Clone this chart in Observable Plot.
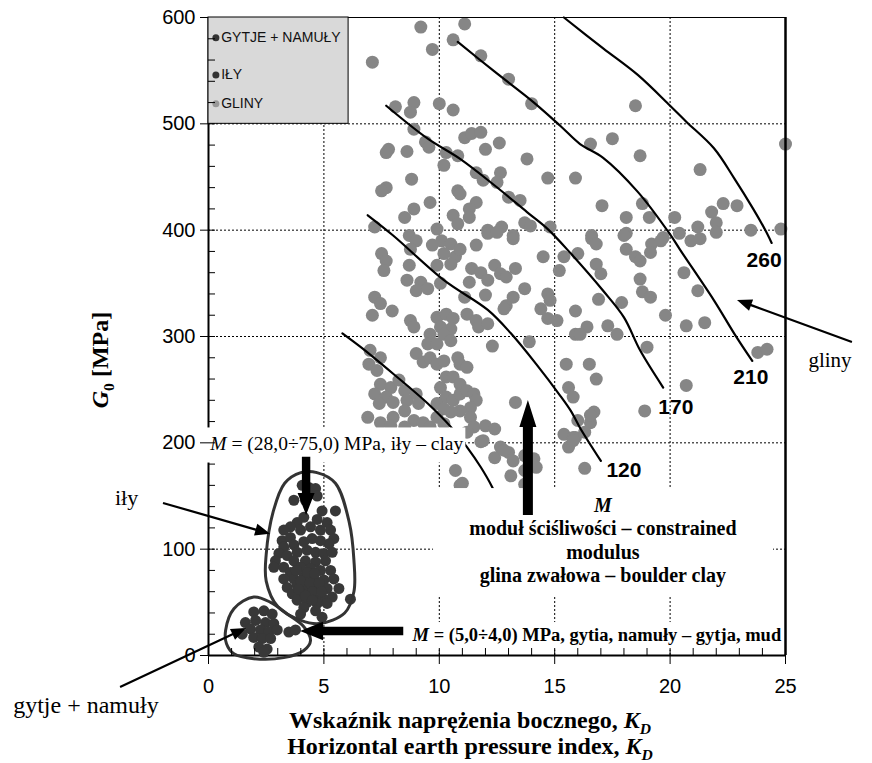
<!DOCTYPE html>
<html><head><meta charset="utf-8">
<script src="https://cdn.jsdelivr.net/npm/d3@7"></script>
<script src="https://cdn.jsdelivr.net/npm/@observablehq/plot@0.6"></script>
<style>html,body{margin:0;padding:0;background:#fff}</style>
</head><body><div id="chart"></div>
<script>
// ---- data: [K_D, G0 (MPa)] ----
const gliny = [
[9.2,591],[11.1,594],[10.6,579],[9.7,570],[7.1,558],[11.8,564],[13.0,542],[14.0,519],[8.1,516],[8.9,520],[8.75,511],[10.0,519],[10.6,513],[8.9,495],[7.8,476],[7.7,473],[8.6,474],[9.4,483],[9.55,478],[10.3,473],[10.8,470],[11.1,487],[11.4,491],[11.8,492],[12.0,476],[12.6,482],[13.8,467],[14.7,449],[15.9,449],[10.2,461],[11.6,454],[11.9,447],[12.65,454],[12.5,445],[8.8,448],[7.7,440],[7.5,437],[10.8,437],[10.9,434],[13.0,431],[13.5,428],[9.6,426],[11.6,426],[11.3,420],[8.9,420],[8.5,412],[10.6,414],[10.8,406],[11.3,412],[13.7,407],[13.95,404],[14.8,403],[7.2,403],[9.9,401],[12.1,400],[12.7,403],[8.7,395],[13.2,395],
[18.5,517],[16.55,481],[17.5,486],[18.7,470],[25.0,481],[21.3,457],[17.05,423],[18.8,425],[19.1,412],[18.1,412],[20.2,412],[21.8,417],[22.0,407],[22.3,425],[22.9,423],[21.2,403],[23.5,400],[24.8,401],[16.6,395],[18.1,397],[19.7,393],[20.4,397],[22.0,398],
[7.5,378],[7.7,371],[7.6,362],[9.0,390],[8.75,382],[9.7,386],[10.1,390],[10.5,387],[10.2,378],[10.7,375],[10.9,382],[11.6,386],[12.1,397],[12.5,398],[13.2,392],[8.7,367],[9.9,367],[10.5,368],[11.4,364],[11.8,360],[12.4,367],[12.65,359],[12.9,356],[13.3,364],[14.5,375],[15.4,375],[15.2,362],[8.6,353],[9.2,351],[9.0,343],[9.5,345],[10.05,350],[11.3,351],[11.1,337],[12.1,353],[12.0,339],[13.7,345],[14.7,340],[14.8,334],[13.2,337],[12.9,329],[12.8,326],[7.2,337],[7.45,331],[7.96,324],[7.1,320],[8.75,315],[8.9,309],[9.9,318],[10.3,321],[10.6,317],[10.5,307],[10.05,309],[11.2,321],[11.6,315],[11.7,309],[12.1,312],[14.4,326],[14.7,317],[15.1,315],[9.6,302],[9.5,293],[9.9,293],[10.2,302],[10.5,296],[12.3,291],[13.9,295],[15.9,302],[7.0,287],[7.45,280],[6.95,274],[7.3,268],[9.0,284],[9.3,276],[9.6,280],[9.9,274],[10.2,277],[10.8,280],[10.9,274],[11.2,271],[10.3,262],[10.6,262],[10.9,255],[15.5,274],[7.45,255],[7.9,252],[8.25,259],[8.5,249],[7.2,246],[7.7,243],[7.4,237],[8.0,238],[8.6,240],[9.0,246],[9.1,237],[8.5,230],[10.05,252],[10.3,243],[9.9,237],[10.6,240],[10.9,246],[11.2,249],[11.5,246],[11.6,240],[11.35,233],[10.9,230],[10.5,229],[10.2,232],[13.3,238],[15.6,252],[15.8,243],[8.9,221],[9.3,219],[9.6,215],[9.9,224],[10.2,218],[11.35,224],[11.5,215],[12.0,216],[12.4,213],[11.9,202],[15.4,208],[15.8,205],[15.6,196],[12.65,196],[13.0,191],[13.2,183],[6.9,224],[7.45,219],[8.0,224],[8.5,215],
[16.6,392],[16.8,387],[18.0,395],[18.1,382],[18.5,375],[18.7,371],[19.2,387],[19.6,390],[19.15,379],[16.0,378],[16.8,368],[17.0,359],[18.7,354],[18.8,342],[19.15,337],[17.9,332],[16.9,335],[15.9,324],[16.4,309],[16.1,302],[17.3,310],[17.7,302],[19.8,320],[20.7,310],[21.5,313],[20.6,360],[21.2,343],[20.9,390],[21.3,392],[19.0,290],[23.8,285],[24.2,288],[16.5,274],[16.8,260],[20.7,254],[18.9,230],[16.0,221],[16.7,229],[16.55,219],[15.9,205],[16.3,176],
[11.8,201],[12.4,186],[12.8,193],[13.7,188],[14.1,185],[14.2,177],[13.7,174],[13.1,169],[13.7,161],[10.9,160],[15.8,202],[16.55,226],[16.3,210],[11.2,210],[10.7,174],[11.0,162],[7.9,216]
];
const ily = [
[4.06,160],[4.35,158],[4.64,157],[4.42,152],[3.70,146],[4.20,146],[4.71,150],[5.50,136],[4.92,136],[4.71,128],[5.14,125],[4.13,130],[3.84,125],[3.55,121],[3.26,118],[3.19,108],[3.55,111],[3.99,118],[4.42,121],[4.85,118],[5.29,118],[5.43,110],[5.22,105],[4.85,108],[4.49,110],[4.13,107],[3.70,104],[3.26,102],[3.05,96],[3.41,94],[3.84,97],[4.27,99],[4.64,97],[5.0,96],[5.36,97],[5.07,89],[4.64,88],[4.20,89],[3.70,89],[2.90,89],[2.83,83],[3.26,83],[3.55,78],[3.99,83],[4.42,82],[4.85,80],[5.29,80],[5.43,72],[5.0,71],[4.56,72],[4.13,74],[3.70,72],[3.26,72],[3.41,64],[3.84,66],[4.27,64],[4.71,64],[5.14,63],[5.65,63],[5.36,55],[4.92,55],[4.49,56],[4.06,58],[3.63,58],[3.84,52],[4.27,50],[4.71,49],[5.14,49],[4.13,45],[4.64,42],[3.99,39],[4.92,36],[6.15,53],
[4.0,70],[4.4,68],[4.8,68],[3.9,62],[4.5,60],[4.3,78],[4.6,77],[3.8,80],[4.9,60],[4.2,56],[4.5,52]
];
const gytje = [
[1.96,41],[2.40,42],[2.76,39],[1.60,31],[2.04,33],[2.47,31],[2.83,30],[1.82,25],[2.25,24],[2.61,22],[2.98,24],[1.96,17],[2.33,16],[2.69,16],[2.18,8],[2.54,6],[2.40,3],[1.46,20],[3.48,22],[3.77,24]
];
const curveLabels = ["120","170","210","260"];
const curveA   = [[5.8,303],[6.6,290],[8.0,265],[9.5,237],[10.5,215],[11.2,196],[11.8,177],[12.3,158],[12.5,148]];
const curve120 = [[6.9,414],[8.0,395],[10.2,353],[12.1,325],[13.1,303],[14.2,274],[15.25,244],[15.7,230],[16.1,214],[17.0,183]];
const curve170 = [[7.7,517],[9.5,486],[10.9,467],[12.4,442],[13.8,417],[14.7,401],[15.7,378],[17.1,343],[18.0,318],[18.7,287],[19.7,252]];
const curve210 = [[10.8,577],[12.4,549],[14.1,520],[15.25,498],[16.1,481],[17.1,468],[18.6,436],[20.0,396],[20.45,381],[21.9,334],[22.8,302],[23.56,277]];
const curve260 = [[15.4,600],[17.1,571],[18.6,546],[20.0,517],[20.7,502],[21.9,477],[22.8,448],[23.6,420],[24.1,401],[24.4,388]];
const ilyEllipse = [[4.0,172],[4.7,172],[5.5,162],[6.1,125],[6.3,90],[6.3,60],[5.9,40],[4.8,30],[4.0,33],[3.0,46],[2.5,70],[2.5,95],[2.8,135],[3.3,162]];
const gytjeEllipse = [[0.74,23.5],[1.10,44],[1.96,55],[2.69,50],[3.41,39],[4.13,27],[4.42,14],[4.13,4.7],[3.26,-2],[1.96,-3],[1.10,1.6],[0.78,11]];
const legendLabels = ["GYTJE + NAMUŁY","IŁY","GLINY"];
const xTicks = [0,5,10,15,20,25];
const yTicks = [0,100,200,300,400,500,600];

// ---- annotation placement (data units) ----
const curveLabelPos = [[18.0,174],[20.25,233],[23.5,262],[24.07,372]];
const legendPos = [581,546,519];
const whiteBoxes = [
  {x1:-0.05,x2:11.15,y1:181,y2:214},
  {x1:9.75,x2:24.48,y1:56,y2:157},
  {x1:8.54,x2:24.9,y1:5,y2:31}
];

const serif = "'Liberation Serif','Times New Roman',serif";
const sans = "'Liberation Sans',Arial,sans-serif";
const P = d => d[0], Q = d => d[1];

const svg = Plot.plot({
  width: 872, height: 763,
  marginLeft: 208, marginRight: 87, marginTop: 17, marginBottom: 108,
  x: {domain: [0, 25]},
  y: {domain: [0, 600]},
  style: {background: "#fff", color: "#000"},
  marks: [
    Plot.ruleX([5,10,15,20], {stroke: "#000", strokeWidth: 1, strokeDasharray: "2,2"}),
    Plot.ruleY([100,200,300,400,500], {stroke: "#000", strokeWidth: 1, strokeDasharray: "2,2"}),
    Plot.dot(gliny, {x: P, y: Q, r: 6.5, fill: "#868686"}),
    ...[curveA, curve120, curve170, curve210, curve260].map(c =>
      Plot.line(c, {x: P, y: Q, curve: "catmull-rom", stroke: "#000", strokeWidth: 2.2})),
    Plot.ruleX([0], {strokeWidth: 2}),
    Plot.ruleX([25], {strokeWidth: 2.5}),
    Plot.ruleY([0], {strokeWidth: 2}),
    Plot.ruleY([600], {strokeWidth: 1}),
    Plot.rect(whiteBoxes, {x1: "x1", x2: "x2", y1: "y1", y2: "y2", fill: "#fff"}),
    Plot.dot(ily, {x: P, y: Q, r: 5.5, fill: "#383838"}),
    Plot.dot(gytje, {x: P, y: Q, r: 5.5, fill: "#383838"}),
    Plot.line(ilyEllipse, {x: P, y: Q, curve: "catmull-rom-closed", stroke: "#333", strokeWidth: 3}),
    Plot.line(gytjeEllipse, {x: P, y: Q, curve: "catmull-rom-closed", stroke: "#333", strokeWidth: 3}),
    Plot.rect([{x1: 0, x2: 6.07, y1: 500, y2: 600}], {x1: "x1", x2: "x2", y1: "y1", y2: "y2", fill: "#d9d9d9", stroke: "#000", strokeWidth: 1}),
    Plot.dot(legendLabels, {x: 0.32, y: (d, i) => legendPos[i], r: 3.5, fill: (d, i) => i < 2 ? "#333" : "#999"}),
    Plot.text(legendLabels, {x: 0.55, y: (d, i) => legendPos[i], text: d => d, textAnchor: "start", fontSize: 14, fontFamily: sans, fill: "#111"}),
    Plot.text(curveLabels, {x: (d, i) => curveLabelPos[i][0], y: (d, i) => curveLabelPos[i][1], text: d => d, fontSize: 21, fontWeight: "bold", fontFamily: sans, fill: "#000"}),
    Plot.tickX(d3.range(0, 26), {x: d => d, insetTop: 631, strokeWidth: 1}),
    Plot.tickY(d3.range(20, 600, 20), {y: d => d, insetRight: 570, strokeWidth: 1}),
    Plot.axisX(xTicks, {tickSize: 9, tickPadding: 14, fontSize: 20, fontFamily: sans, label: null}),
    Plot.axisY(yTicks, {tickSize: 8, tickPadding: 5, fontSize: 20, fontFamily: sans, label: null})
  ]
});
document.getElementById("chart").appendChild(svg);

// ---- annotations through the plot's own scales ----
const sx = svg.scale("x"), sy = svg.scale("y");
const X = v => sx.apply(v), Y = v => sy.apply(v);
const root = d3.select(svg);
const g = root.append("g");

function rich(x, y, parts, o) {
  const t = g.append("text").attr("x", x).attr("y", y)
    .attr("text-anchor", o.anchor || "start").attr("dy", "0.35em")
    .attr("font-family", o.family || serif).attr("font-size", o.size)
    .attr("font-weight", o.weight || "normal").attr("fill", "#000");
  if (o.rotate) t.attr("transform", `rotate(-90 ${x} ${y})`);
  for (const p of parts) {
    const s = t.append("tspan").text(p.t);
    if (p.i) s.attr("font-style", "italic");
    if (p.sub) s.attr("font-size", o.size * 0.65).attr("dy", o.size * 0.25);
    if (p.up) s.attr("dy", -o.size * 0.25);
  }
  return t;
}
function arrow(tail, tip, hl, hw, sw, fill) {
  const [ax, ay] = [X(tail[0]), Y(tail[1])], [bx, by] = [X(tip[0]), Y(tip[1])];
  const L = Math.hypot(bx - ax, by - ay), ux = (bx - ax) / L, uy = (by - ay) / L, nx = -uy, ny = ux;
  const cx = bx - ux * hl, cy = by - uy * hl;
  const pts = [[ax + nx * sw, ay + ny * sw], [cx + nx * sw, cy + ny * sw], [cx + nx * hw, cy + ny * hw], [bx, by],
    [cx - nx * hw, cy - ny * hw], [cx - nx * sw, cy - ny * sw], [ax - nx * sw, ay - ny * sw]];
  g.append("path").attr("d", "M" + pts.map(p => p.join(",")).join("L") + "Z").attr("fill", fill || "#000");
}

// box labels
rich(X(0.1), Y(199), [{t: "M", i: true}, {t: " = (28,0÷75,0) MPa, iły – clay"}], {size: 19.5});
rich(X(17.11), Y(141), [{t: "M", i: true}], {size: 20, weight: "bold", anchor: "middle"});
rich(X(17.11), Y(119.4), [{t: "moduł ściśliwości – constrained"}], {size: 20, weight: "bold", anchor: "middle"});
rich(X(17.11), Y(96.9), [{t: "modulus"}], {size: 20, weight: "bold", anchor: "middle"});
rich(X(17.11), Y(75.2), [{t: "glina zwałowa – boulder clay"}], {size: 20, weight: "bold", anchor: "middle"});
rich(X(16.85), Y(19), [{t: "M", i: true}, {t: " = (5,0÷4,0) MPa, gytia, namuły – gytja, mud"}], {size: 18.5, weight: "bold", anchor: "middle"});
// group labels
rich(X(-3.53), Y(148.6), [{t: "iły"}], {size: 22, anchor: "middle"});
rich(X(-5.29), Y(-47), [{t: "gytje + namuły"}], {size: 24, anchor: "middle"});
rich(X(26.95), Y(277.4), [{t: "gliny"}], {size: 21, anchor: "middle"});
// axis titles
rich(100, 360, [{t: "G", i: true}, {t: "0", sub: true}, {t: " [MPa]", up: true}], {size: 24, weight: "bold", anchor: "middle", rotate: true});
rich(470, 720, [{t: "Wskaźnik naprężenia bocznego, "}, {t: "K", i: true}, {t: "D", i: true, sub: true}], {size: 24, weight: "bold", anchor: "middle"});
rich(470, 746, [{t: "Horizontal earth pressure index, "}, {t: "K", i: true}, {t: "D", i: true, sub: true}], {size: 24, weight: "bold", anchor: "middle"});
// arrows
arrow([-1.95, 143], [2.69, 114], 15, 6, 1.1);
arrow([-3.81, -30], [1.65, 25.4], 15, 6, 1.1);
arrow([27.9, 294.4], [22.92, 333.9], 15, 6, 1.1);
arrow([13.86, 131.7], [13.86, 239.8], 27, 8.5, 5);
arrow([4.25, 186.5], [4.25, 131.7], 22, 8.5, 4.2);
arrow([8.46, 22.6], [3.99, 22.6], 23, 9.2, 4.2);
</script>
</body></html>
